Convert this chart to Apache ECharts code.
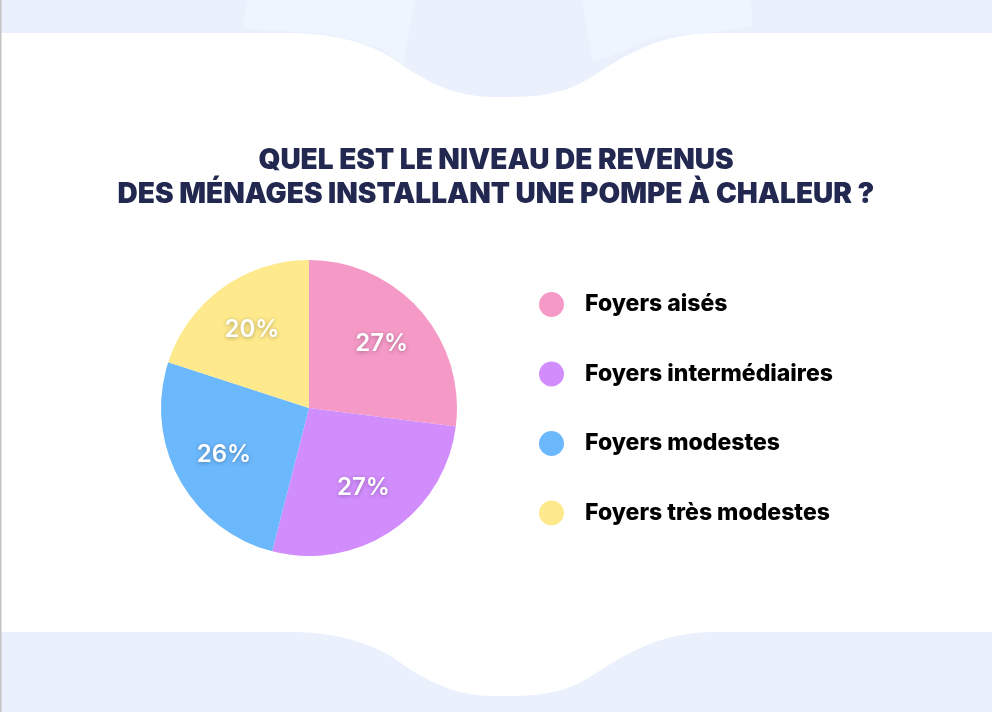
<!DOCTYPE html>
<html>
<head>
    <meta charset="utf-8">
    <title>Niveau de revenus</title>
    <script src="https://cdn.jsdelivr.net/npm/echarts@6/dist/echarts.min.js"></script>
    <style>
        html, body { margin: 0; padding: 0; background: #fff; }
        #main { width: 992px; height: 712px; }
    </style>
</head>
<body>
<div id="main"></div>
<script type="text/javascript">
    // données
    var categories = ['Foyers aisés', 'Foyers intermédiaires', 'Foyers modestes', 'Foyers très modestes'];
    var values = [27, 27, 26, 20];
    var colors = ['#F599C7', '#D28DFD', '#6CB8FD', '#FEE98C'];

    var pieData = categories.map(function (name, i) {
        return { name: name, value: values[i], itemStyle: { color: colors[i] } };
    });

    // petite aide pour la vague décorative : échantillonne des courbes de Bézier
    function wave(dy, edge) {
        var segs = [
            [[715, 33], [660, 33], [625, 55], [590, 78]],
            [[590, 78], [560, 97], [530, 97], [497, 97]],
            [[497, 97], [465, 97], [440, 90], [405, 67]],
            [[405, 67], [370, 40], [330, 33], [285, 33]]
        ];
        var pts = [[992, edge], [992, 33 + dy]];
        segs.forEach(function (s) {
            for (var k = 0; k <= 16; k++) {
                var t = k / 16, u = 1 - t;
                pts.push([
                    u*u*u*s[0][0] + 3*u*u*t*s[1][0] + 3*u*t*t*s[2][0] + t*t*t*s[3][0],
                    u*u*u*s[0][1] + 3*u*u*t*s[1][1] + 3*u*t*t*s[2][1] + t*t*t*s[3][1] + dy
                ]);
            }
        });
        pts.push([0, 33 + dy], [0, edge]);
        return pts;
    }

    var myChart = echarts.init(document.getElementById('main'));

    var band = '#EAF1FD';
    var light = '#EEF5FE';

    var option = {
        backgroundColor: '#fff',
        animation: false,
        graphic: [
            { type: 'polygon', z: -10, shape: { points: wave(0, 0) }, style: { fill: band } },
            { type: 'polygon', z: -9, shape: { points: [[247,0],[415,0],[403,64],[380,48],[330,34],[285,31],[243,29]] }, style: { fill: light } },
            { type: 'polygon', z: -9, shape: { points: [[582,0],[750,0],[753,26],[715,32],[660,36],[620,52],[593,62]] }, style: { fill: light } },
            { type: 'polygon', z: -10, shape: { points: wave(599, 712) }, style: { fill: band } },
            { type: 'rect', z: -8, shape: { x: 0, y: 0, width: 1.5, height: 712 }, style: { fill: '#C4C4C4' } }
        ],
        title: {
            text: 'QUEL EST LE NIVEAU DE REVENUS\nDES MÉNAGES INSTALLANT UNE POMPE À CHALEUR ?',
            left: 'center',
            top: 144,
            padding: 0,
            textStyle: {
                fontFamily: 'Inter',
                fontWeight: 900,
                fontSize: 28,
                lineHeight: 34,
                color: '#222850',
                align: 'center'
            }
        },
        legend: {
            orient: 'vertical',
            left: 539,
            top: 292,
            padding: 0,
            icon: 'circle',
            itemWidth: 25,
            itemHeight: 25,
            itemGap: 44.5,
            selectedMode: false,
            data: categories,
            textStyle: {
                fontFamily: 'Inter',
                fontWeight: 800,
                fontSize: 23,
                color: '#000',
                padding: [0, 0, 0, 16]
            }
        },
        series: [
            {
                name: 'Revenus',
                type: 'pie',
                center: [309, 408],
                radius: [0, 148],
                startAngle: 90,
                clockwise: true,
                label: { show: false },
                labelLine: { show: false },
                emphasis: { disabled: true },
                data: pieData
            },
            {
                // série transparente pour placer les pourcentages
                name: 'Étiquettes',
                type: 'pie',
                center: [309, 408],
                radius: [40, 148],
                startAngle: 90,
                clockwise: true,
                silent: true,
                legendHoverLink: false,
                itemStyle: { color: 'rgba(0,0,0,0)' },
                emphasis: { disabled: true },
                label: {
                    show: true,
                    position: 'inside',
                    formatter: '{c}%',
                    fontFamily: 'Inter',
                    fontWeight: 600,
                    fontSize: 24,
                    color: '#fff',
                    textShadowColor: 'rgba(0,0,0,0.3)',
                    textShadowBlur: 4,
                    textShadowOffsetY: 1
                },
                labelLine: { show: false },
                data: values.map(function (v, i) { return { name: categories[i] + ' ', value: v }; })
            }
        ]
    };

    myChart.setOption(option);
</script>
</body>
</html>
